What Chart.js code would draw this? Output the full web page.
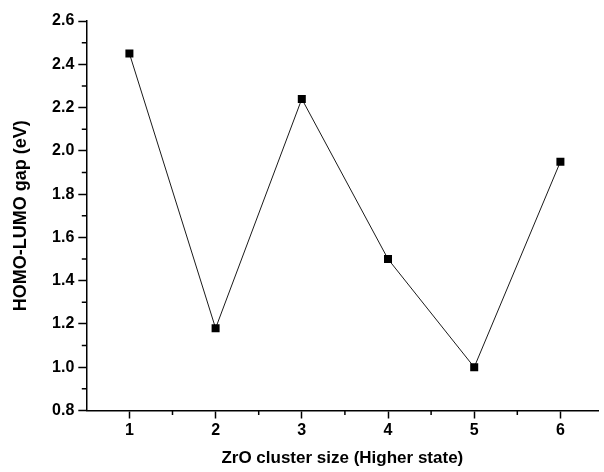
<!DOCTYPE html>
<html>
<head>
<meta charset="utf-8">
<script src="https://cdn.jsdelivr.net/npm/chart.js@4/dist/chart.umd.min.js"></script>
<style>
    html, body { margin: 0; padding: 0; background: #fff; }
    #wrap { width: 604px; height: 472px; position: relative; }
</style>
</head>
<body>
<div id="wrap"><canvas id="gapChart"></canvas></div>
<script>
// cluster sizes and HOMO-LUMO gaps
const clusterSizes = [1, 2, 3, 4, 5, 6];
const gapValues = [2.45, 1.18, 2.24, 1.50, 1.00, 1.95];

const xTicks = [1, 2, 3, 4, 5, 6];
const yTicks = [0.8, 1.0, 1.2, 1.4, 1.6, 1.8, 2.0, 2.2, 2.4, 2.6];
const xMinorTicks = [1.5, 2.5, 3.5, 4.5, 5.5];
const yMinorTicks = [0.9, 1.1, 1.3, 1.5, 1.7, 1.9, 2.1, 2.3, 2.5];

const FONT = '"Liberation Sans", Arial, sans-serif';

// minor tick marks, placed through the chart's own scales
const minorTicks = {
    id: 'minorTicks',
    afterDraw(chart) {
        const { ctx, chartArea, scales } = chart;
        ctx.save();
        ctx.strokeStyle = '#000';
        ctx.lineWidth = 1.5;
        ctx.beginPath();
        xMinorTicks.forEach((v) => {
            const px = scales.x.getPixelForValue(v);
            ctx.moveTo(px, chartArea.bottom);
            ctx.lineTo(px, chartArea.bottom + 4.5);
        });
        yMinorTicks.forEach((v) => {
            const py = scales.y.getPixelForValue(v);
            ctx.moveTo(chartArea.left, py);
            ctx.lineTo(chartArea.left - 4.5, py);
        });
        ctx.stroke();
        ctx.restore();
    },
};

new Chart(document.getElementById('gapChart'), {
    type: 'line',
    data: {
        datasets: [{
            data: clusterSizes.map((x, i) => ({ x, y: gapValues[i] })),
            borderColor: '#1a1a1a',
            borderWidth: 1,
            backgroundColor: '#000',
            pointStyle: 'rect',
            pointRadius: 5.66,
            pointBorderWidth: 0,
            pointBackgroundColor: '#000',
            tension: 0,
            fill: false,
        }],
    },
    options: {
        responsive: true,
        maintainAspectRatio: false,
        animation: false,
        layout: { padding: { top: 21, right: 0, bottom: 0, left: 0 } },
        plugins: {
            legend: { display: false },
            tooltip: { enabled: false },
        },
        scales: {
            x: {
                type: 'linear',
                min: 0.5,
                max: 6.44,
                afterBuildTicks: (scale) => { scale.ticks = xTicks.map((value) => ({ value })); },
                afterFit: (scale) => { scale.height = 61.5; },
                grid: { drawOnChartArea: false, tickLength: 8, tickWidth: 1.5, tickColor: '#000' },
                border: { display: true, color: '#000', width: 1.5 },
                ticks: {
                    color: '#000',
                    padding: 2,
                    font: { family: FONT, size: 16, weight: 'bold' },
                    callback: (v) => String(v),
                },
                title: {
                    display: true,
                    text: 'ZrO cluster size (Higher state)',
                    color: '#000',
                    padding: { top: 0, bottom: 3 },
                    font: { family: FONT, size: 17, weight: 'bold' },
                },
            },
            y: {
                min: 0.8,
                max: 2.6,
                afterBuildTicks: (scale) => { scale.ticks = yTicks.map((value) => ({ value })); },
                afterFit: (scale) => { scale.width = 86.3; },
                grid: { drawOnChartArea: false, tickLength: 8, tickWidth: 1.5, tickColor: '#000' },
                border: { display: true, color: '#000', width: 1.5 },
                ticks: {
                    color: '#000',
                    padding: 4,
                    font: { family: FONT, size: 16, weight: 'bold' },
                    callback: (v) => Number(v).toFixed(1),
                },
                title: {
                    display: true,
                    text: 'HOMO-LUMO gap (eV)',
                    color: '#000',
                    padding: { top: 10, bottom: 0 },
                    font: { family: FONT, size: 18, weight: 'bold' },
                },
            },
        },
    },
    plugins: [minorTicks],
});
</script>
</body>
</html>
